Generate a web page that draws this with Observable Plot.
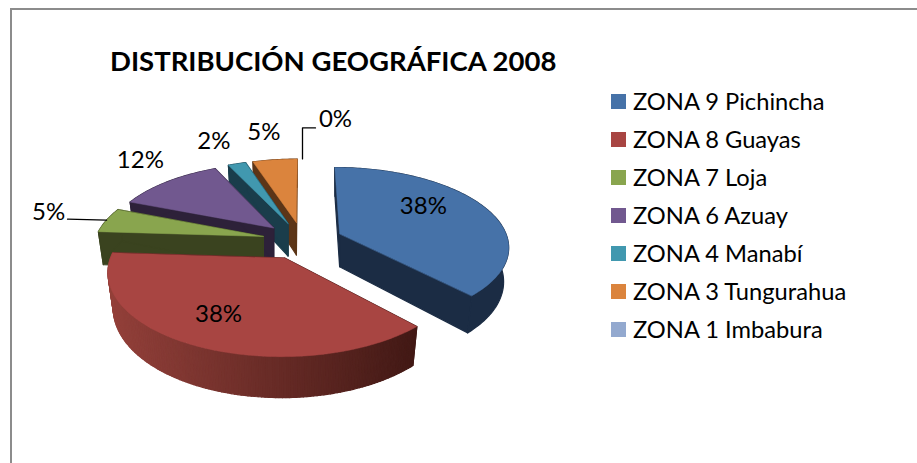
<!DOCTYPE html>
<html><head><meta charset="utf-8">
<script src="https://cdn.jsdelivr.net/npm/d3@7"></script>
<script src="https://cdn.jsdelivr.net/npm/@observablehq/plot@0.6"></script>
<style>
html,body{margin:0;padding:0;background:#fff;width:917px;height:463px;overflow:hidden}
#frame{position:relative;box-sizing:border-box;left:10px;top:8px;width:907px;height:455px;border-left:2px solid #8c8c8c;border-top:2px solid #8c8c8c;font-family:Lato,sans-serif;color:#000}
#title{box-sizing:border-box;height:75px;padding:31px 0 0 98px;font-size:27.5px;line-height:40px;font-weight:700;white-space:nowrap}
#row{position:absolute;left:-12px;top:75px;width:917px}
#row svg{display:block;max-width:none}
#legend{position:absolute;left:611px;top:-3px}
.item{position:absolute;left:0;height:38px;display:flex;align-items:center;white-space:nowrap;font-size:23.7px}
.sw{width:15px;height:15px;margin-right:7px;flex:none}
</style></head>
<body>
<div id="frame"><div id="title"></div><div id="row"><div id="legend"></div></div></div>
<script>
const titleText = "DISTRIBUCIÓN GEOGRÁFICA 2008";
const zones = ["ZONA 9 Pichincha","ZONA 8 Guayas","ZONA 7 Loja","ZONA 6 Azuay","ZONA 4 Manabí","ZONA 3 Tungurahua","ZONA 1 Imbabura"];
const shares = [38,38,5,12,2,5,0];
const topColors = ["#4672a8","#a84542","#89a54e","#71588f","#4198af","#db843d","#93a9cf"];
const wallColors = ["#1b2c44","#3a1512","#3a431f","#2d2139","#1a3d4b","#5c3517","#3a4454"];

// 3D view of the pie
const view = {cx:302, cy:240, rx:168.5, ry:78, persp:0.15, explode:0.24, depth:33.5, squeeze:0.97};
const W = 917, H = 378, svgTop = 85;
// label offsets from the exploded slice tip, px
const labelDx = [-61, 23, -58, -27, -23, -11, 33];
const labelDy = [-1, -31, -8, -21, -23, -27, -40];

const rad = d => d * Math.PI / 180;
function project(gx, gz) {
  const w = 1 / (1 + view.persp * gz);
  return {x: view.cx + view.rx * gx * w, y: view.cy - view.ry * gz * w, w};
}
function pt(mid, ang, r) {
  return project(view.explode * Math.sin(rad(mid)) + r * Math.sin(rad(ang)),
                 view.explode * Math.cos(rad(mid)) + r * Math.cos(rad(ang)));
}

const total = d3.sum(shares);
let polyId = 0;
function poly(points, color) {
  const id = polyId++;
  return points.map(p => ({id, x:p.x, y:p.y, color}));
}
const tips = [];
const sliceOrder = [5,4,0,3,2,1];
let acc = 0;
const slices = shares.map((v,i) => {
  const a0 = acc / total * 360; acc += v; const a1 = acc / total * 360;
  return {i, a0, a1, mid:(a0 + a1) / 2};
});
slices.forEach(s => tips[s.i] = pt(s.mid, s.mid, 1));

const redLeft = d3.rgb("#93403a"), redRight = d3.rgb("#421915");
const sliceMarks = [];
const face = (data, strokeWidth) => Plot.line(data, {x:"x", y:"y", z:"id", fill:"color", stroke:"color", strokeWidth, curve:"linear-closed"});
for (const k of sliceOrder) {
  const s = slices[k];
  const apex = pt(s.mid, 0, 0);
  const low = p => ({x: apex.x + (p.x - apex.x) * view.squeeze, y: p.y + view.depth * p.w});
  const steps = Math.max(4, Math.round(s.a1 - s.a0));
  const rim = d3.range(steps + 1).map(j => pt(s.mid, s.a0 + (s.a1 - s.a0) * j / steps, 1));
  const walls = [
    ...poly([apex, rim[0], low(rim[0]), low(apex)], wallColors[k]),
    ...poly([apex, rim[steps], low(rim[steps]), low(apex)], wallColors[k])
  ];
  if (k === 1) {
    // the Guayas rim darkens from left to right
    const xs = d3.extent(rim, p => p.x);
    for (let j = 0; j < steps; j++) {
      const t = ((rim[j].x + rim[j+1].x) / 2 - xs[0]) / (xs[1] - xs[0]);
      walls.push(...poly([rim[j], rim[j+1], low(rim[j+1]), low(rim[j])], d3.interpolateRgb(redLeft, redRight)(t)));
    }
  } else {
    walls.push(...poly([...rim, ...rim.map(low).reverse()], wallColors[k]));
  }
  sliceMarks.push(face(walls, 1.2), face(poly([apex, ...rim], topColors[k]), 0.5));
}

const labels = slices.map(s => ({
  x: tips[s.i].x + labelDx[s.i], y: tips[s.i].y + labelDy[s.i], text: shares[s.i] + "%"
}));
const leaderSeven = [tips[2], {x:tips[2].x - 39, y:tips[2].y - 1}].map(p => ({...p, id:0}));
const leaderZero = [tips[6], {x:tips[6].x, y:tips[6].y - 31}, {x:tips[6].x + 13, y:tips[6].y - 31}].map(p => ({...p, id:1}));

const chart = Plot.plot({
  width: W, height: H, margin: 0,
  x: {domain:[0, W], range:[0, W], axis:null},
  y: {domain:[svgTop, svgTop + H], range:[0, H], axis:null},
  color: {type:"identity"},
  marks: [
    ...sliceMarks,
    Plot.line([...leaderSeven, ...leaderZero], {x:"x", y:"y", z:"id", stroke:"#000", strokeWidth:1.3, curve:"linear"}),
    Plot.text(labels, {x:"x", y:"y", text:"text", fill:"#000", fontSize:24, fontFamily:"Lato, sans-serif"})
  ]
});
document.getElementById("row").prepend(chart);
document.getElementById("title").textContent = titleText;
const legend = document.getElementById("legend");
zones.forEach((z,i) => {
  const d = document.createElement("div");
  d.className = "item";
  d.style.top = (i * 38) + "px";
  const sw = document.createElement("span"); sw.className = "sw"; sw.style.background = topColors[i];
  d.append(sw, z);
  legend.append(d);
});
</script>
</body></html>
